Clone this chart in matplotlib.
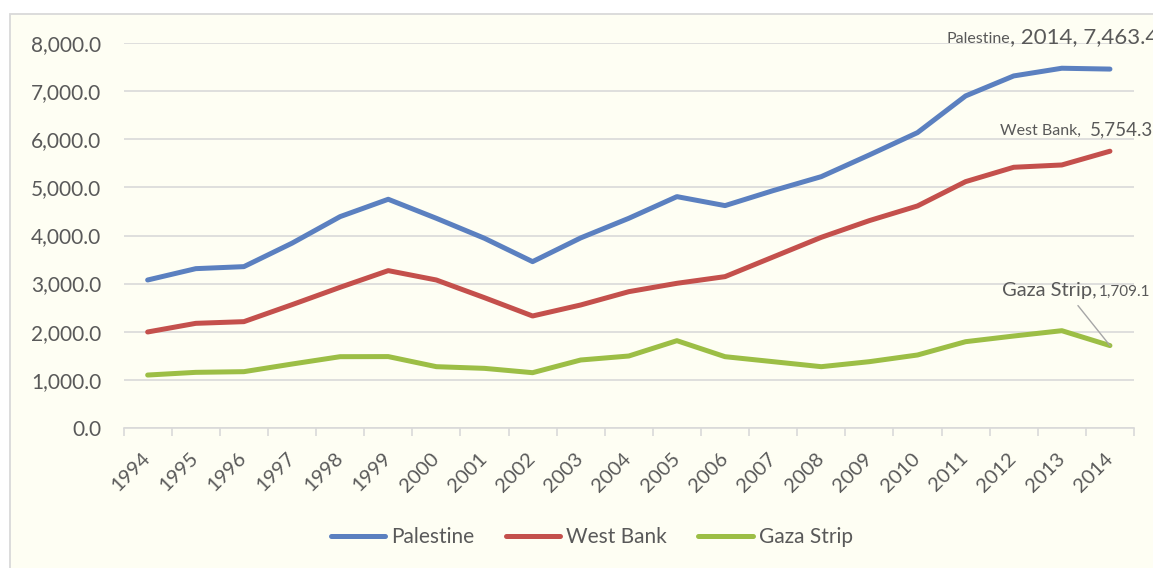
import matplotlib
matplotlib.use("Agg")
import matplotlib.pyplot as plt
from matplotlib.patches import Rectangle
from matplotlib.ticker import FixedLocator, FuncFormatter

plt.rcParams['font.family'] = ['Lato', 'DejaVu Sans']

years = [str(y) for y in range(1994, 2015)]
palestine = [3074, 3310, 3352, 3840, 4393, 4754, 4358, 3942, 3456, 3950, 4358,
             4809, 4622, 4934, 5225, 5677, 6141, 6905, 7321, 7481, 7463.4]
west_bank = [1992, 2172, 2207, 2560, 2922, 3269, 3074, 2706, 2325, 2554, 2831,
             3005, 3144, 3553, 3962, 4310, 4615, 5121, 5420, 5468, 5754.3]
gaza = [1096, 1152, 1166, 1325, 1478, 1480, 1270, 1235, 1145, 1409, 1492,
        1811, 1478, 1374, 1270, 1374, 1513, 1790, 1908, 2019, 1709.1]

series_names = ['Palestine', 'West Bank', 'Gaza Strip']
colors = ['#5B80C0', '#C4504C', '#9CBE45']
text_color = '#595959'
grid_color = '#D9D9D9'
bg_color = '#FEFEF3'

W, H = 1153, 568
fig = plt.figure(figsize=(W / 100, H / 100), dpi=100)
fig.patch.set_facecolor('white')

# chart area
fig.patches.append(Rectangle((10.5 / W, -0.01), 1.1, 1 - 13.5 / H + 0.01,
                             transform=fig.transFigure, facecolor=bg_color,
                             edgecolor='#D9D9D9', linewidth=1.3, zorder=-10))

ax = fig.add_axes([123.6 / W, 1 - 427.7 / H, (1134 - 123.6) / W, (427.7 - 43.3) / H])
ax.set_facecolor('none')

x = list(range(len(years)))
for vals, name, c in zip([palestine, west_bank, gaza], series_names, colors):
    ax.plot(x, vals, color=c, lw=3.6, label=name, solid_capstyle='round',
            solid_joinstyle='round', zorder=3, clip_on=False)

ax.set_xlim(-0.5, len(years) - 0.5)
ax.set_ylim(0, 8000)
ax.set_yticks(range(0, 8001, 1000))
ax.yaxis.set_major_formatter(FuncFormatter(lambda v, p: f"{v:,.1f}"))
ax.grid(axis='y', color=grid_color, lw=1.2, zorder=0)
ax.tick_params(axis='y', length=0, pad=16, labelsize=15, labelcolor=text_color)

ax.xaxis.set_major_locator(FixedLocator([i - 0.5 for i in range(len(years) + 1)]))
ax.xaxis.set_minor_locator(FixedLocator(x))
ax.set_xticklabels([], minor=False)
ax.set_xticklabels(years, minor=True, rotation=45, ha='right', va='center',
                   rotation_mode='anchor')
ax.tick_params(axis='x', which='major', length=6, color=grid_color, width=1.2)
ax.tick_params(axis='x', which='minor', length=0, pad=20, labelsize=14.5,
               labelcolor=text_color)

for s in ['top', 'right', 'left']:
    ax.spines[s].set_visible(False)
ax.spines['bottom'].set_color(grid_color)
ax.spines['bottom'].set_linewidth(1.2)

# data labels at the last point
last = len(years) - 1
ax.annotate('Palestine', xy=(last, palestine[-1]), xytext=(-100, 26),
            textcoords='offset pixels', ha='right', va='baseline',
            fontsize=11.5, color=text_color, annotation_clip=False)
ax.annotate(f", {years[-1]}, {palestine[-1]:,.1f}", xy=(last, palestine[-1]),
            xytext=(-100, 26), textcoords='offset pixels', ha='left',
            va='baseline', fontsize=16, color=text_color, annotation_clip=False)

ax.annotate('West Bank,', xy=(last, west_bank[-1]), xytext=(-110, 16),
            textcoords='offset pixels', ha='left', va='baseline',
            fontsize=11.5, color=text_color, annotation_clip=False)
ax.annotate(f"{west_bank[-1]:,.1f}", xy=(last, west_bank[-1]), xytext=(-20, 16),
            textcoords='offset pixels', ha='left', va='baseline',
            fontsize=13.5, color=text_color, annotation_clip=False)

ax.annotate('Gaza Strip,', xy=(last, gaza[-1]), xytext=(-108, 50),
            textcoords='offset pixels', ha='left', va='baseline',
            fontsize=14.5, color=text_color, annotation_clip=False)
ax.annotate(f"{gaza[-1]:,.1f}", xy=(last, gaza[-1]), xytext=(-11, 50),
            textcoords='offset pixels', ha='left', va='baseline',
            fontsize=11, color=text_color, annotation_clip=False)
ax.annotate('', xy=(last, gaza[-1]), xytext=(-32, 40),
            textcoords='offset pixels',
            arrowprops=dict(arrowstyle='-', color='#A6A6A6', lw=1.0,
                            shrinkA=0, shrinkB=0), annotation_clip=False)

leg = fig.legend(loc='center', bbox_to_anchor=(592 / W, 1 - 537 / H), ncol=3,
                 frameon=False, fontsize=15, handlelength=2.6, handletextpad=0.3,
                 columnspacing=1.5)
for t in leg.get_texts():
    t.set_color(text_color)
for l in leg.get_lines():
    l.set_linewidth(3.6)

fig.savefig('out.png', dpi=100, facecolor='white')
